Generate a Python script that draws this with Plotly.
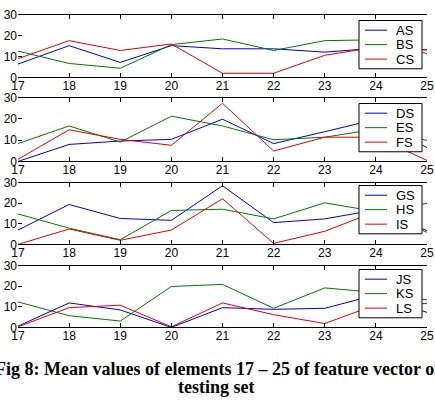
import plotly.graph_objects as go

x_vals = [17, 18, 19, 20, 21, 22, 23, 24, 25]

# subplot 1
AS = [6.4, 15.2, 7.2, 15.2, 13.7, 13.7, 12.1, 14.0, 13.2]
BS = [12.6, 6.7, 4.4, 15.7, 18.4, 12.9, 17.6, 18.0, 11.4]
CS = [9.0, 17.6, 12.9, 16.0, 2.0, 2.0, 10.6, 14.5, 13.2]
# subplot 2
DS = [0.0, 8.0, 9.6, 10.4, 19.9, 8.4, 14.0, 19.8, 6.5]
ES = [8.4, 16.7, 9.1, 21.3, 16.7, 10.2, 11.4, 15.2, 9.9]
FS = [1.0, 14.9, 10.4, 7.6, 27.4, 4.9, 11.4, 11.4, 0.5]
# subplot 3
GS = [7.0, 19.4, 12.6, 11.7, 28.5, 10.6, 12.4, 16.8, 6.7]
HS = [14.8, 7.9, 2.3, 16.5, 17.1, 12.4, 20.2, 16.0, 19.9]
IS = [0.0, 7.5, 2.0, 7.0, 22.2, 0.5, 6.4, 16.0, 5.9]
# subplot 4
JS = [0.6, 11.9, 8.5, 0.0, 9.6, 8.8, 9.3, 15.8, 7.3]
KS = [12.4, 5.7, 3.1, 19.9, 20.9, 9.3, 19.2, 17.0, 13.4]
LS = [0.3, 9.6, 10.8, 0.3, 11.9, 6.2, 1.9, 11.0, 11.6]

groups = [
    [("AS", AS), ("BS", BS), ("CS", CS)],
    [("DS", DS), ("ES", ES), ("FS", FS)],
    [("GS", GS), ("HS", HS), ("IS", IS)],
    [("JS", JS), ("KS", KS), ("LS", LS)],
]
y_ticks = [0, 10, 20, 30]
caption1 = "Fig 8: Mean values of elements 17 \u2013 25 of feature vector of"
caption2 = "testing set"

colors = ["#0000c8", "#007a00", "#e00000"]

W, H = 435, 402
ML, MR = 18, 8
PW = W - ML - MR

def py(p):
    return 1 - p / H

def px(p):
    return (p - ML) / PW

# pixel top/bottom of each plot area
boxes = [(8, 73), (94, 160), (182, 246), (268, 332)]
legend_tops = [14, 100, 185, 272]
LEG_L, LEG_R, LEG_H = 359, 422, 50
entry_offsets = [10, 25, 40]

fig = go.Figure()
layout = dict(
    width=W, height=H,
    margin=dict(l=ML, r=MR, t=0, b=0),
    paper_bgcolor="white", plot_bgcolor="white",
    font=dict(family="Liberation Sans, Arial", size=12, color="black"),
    showlegend=False,
)
shapes = []
annotations = []

for i, grp in enumerate(groups):
    n = i + 1
    xa = "x" if n == 1 else f"x{n}"
    ya = "y" if n == 1 else f"y{n}"
    for (name, vals), c in zip(grp, colors):
        fig.add_trace(go.Scatter(
            x=x_vals, y=vals, name=name, mode="lines",
            line=dict(color=c, width=1),
            xaxis=xa, yaxis=ya,
        ))
    top, bot = boxes[i]
    layout[f"xaxis{n if n > 1 else ''}"] = dict(
        domain=[0, 1], anchor=ya, range=[17, 25],
        tickvals=x_vals, ticks="inside", ticklen=4, tickcolor="black",
        showline=True, linecolor="black", linewidth=1, mirror="ticks",
        showgrid=False, zeroline=False, ticklabelstandoff=-3,
        tickfont=dict(size=12, family="Liberation Sans, Arial"),
    )
    layout[f"yaxis{n if n > 1 else ''}"] = dict(
        domain=[py(bot), py(top)], anchor=xa, range=[0, 30],
        tickvals=y_ticks, ticks="inside", ticklen=4, tickcolor="black",
        showline=False, showgrid=False, zeroline=False,
        tickfont=dict(size=12, family="Liberation Sans, Arial"),
    )
    # right-hand axis line with inward ticks
    layout[f"yaxis{n + 4}"] = dict(
        overlaying=ya, anchor=xa, side="right", range=[0, 30],
        tickvals=y_ticks, ticks="inside", ticklen=4, tickcolor="black",
        showline=True, linecolor="black", linewidth=1,
        showticklabels=False, showgrid=False, zeroline=False,
    )
    # legend box
    lt = legend_tops[i]
    shapes.append(dict(
        type="rect", xref="paper", yref="paper",
        x0=px(LEG_L), x1=px(LEG_R), y0=py(lt + LEG_H), y1=py(lt),
        line=dict(color="black", width=1), fillcolor="white", layer="above",
    ))
    for (name, _), c, off in zip(grp, colors, entry_offsets):
        yy = py(lt + off)
        shapes.append(dict(
            type="line", xref="paper", yref="paper",
            x0=px(365), x1=px(387), y0=yy, y1=yy,
            line=dict(color=c, width=1), layer="above",
        ))
        annotations.append(dict(
            text=name, xref="paper", yref="paper", x=px(394), y=yy,
            xanchor="left", yanchor="middle", showarrow=False,
            font=dict(size=13, family="Liberation Sans, Arial", color="black"),
        ))

annotations.append(dict(
    text=f"<b>{caption1}</b>", xref="paper", yref="paper",
    x=px(217.5), y=py(375), xanchor="center", yanchor="middle",
    showarrow=False, font=dict(family="Liberation Serif, Times New Roman", size=18, color="black"),
))
annotations.append(dict(
    text=f"<b>{caption2}</b>", xref="paper", yref="paper",
    x=px(216), y=py(394), xanchor="center", yanchor="middle",
    showarrow=False, font=dict(family="Liberation Serif, Times New Roman", size=18, color="black"),
))
layout["shapes"] = shapes
layout["annotations"] = annotations

fig.update_layout(**layout)
fig.write_html("out.html")
